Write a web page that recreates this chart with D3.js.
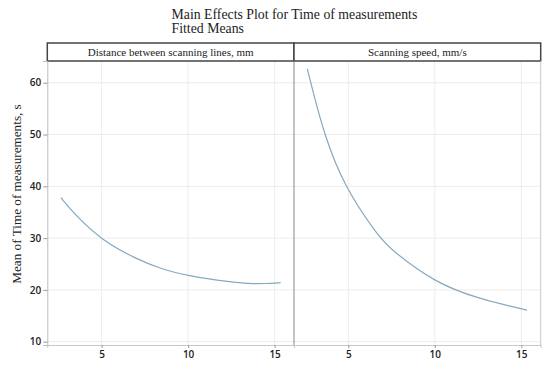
<!DOCTYPE html>
<html>
<head>
<meta charset="utf-8">
<script src="https://cdn.jsdelivr.net/npm/d3@7"></script>
<style>
    body { margin: 0; background: #fff; }
    .tick text { font-family: 'Open Sans', sans-serif; font-weight: 600; font-size: 10px; fill: #222; }
    .serif { font-family: 'Liberation Serif', 'Times New Roman', serif; fill: #222; }
</style>
</head>
<body>
<svg width="550" height="369"></svg>
<script>
'use strict';

// panel titles
var panels = ['Distance between scanning lines, mm', 'Scanning speed, mm/s'];
// fitted means
var distanceX = [2.65, 3.46, 5, 6.92, 8.46, 10, 12.5, 13.5, 14.5, 15.35];
var distanceY = [37.8, 34.5, 29.6, 26.1, 24.0, 22.7, 21.5, 21.2, 21.2, 21.4];
var speedX = [2.63, 2.83, 3.6, 4.75, 6.8, 7.5, 10, 12.5, 15.32];
var speedY = [62.7, 60, 50, 40, 30, 27.7, 21.4, 18.3, 16.1];
var xTicks = [5, 10, 15];
var yTicks = [10, 20, 30, 40, 50, 60];

var series = [
    distanceX.map(function(x, i) { return {x: x, y: distanceY[i]}; }),
    speedX.map(function(x, i) { return {x: x, y: speedY[i]}; })
];

var svg = d3.select('svg');
var plotLeft = 47.3, plotRight = 540.7, plotTop = 61, plotBottom = 345, headTop = 43;
var panelW = (plotRight - plotLeft) / 2;

var y = d3.scaleLinear().domain([9.36, 64.2]).range([plotBottom, plotTop]);

// titles
svg.append('text').attr('class', 'serif')
    .attr('x', 171.5).attr('y', 18.5).attr('font-size', 13.8)
    .text('Main Effects Plot for Time of measurements');
svg.append('text').attr('class', 'serif')
    .attr('x', 171.5).attr('y', 33).attr('font-size', 13.8)
    .text('Fitted Means');

// y label
svg.append('text').attr('class', 'serif')
    .attr('transform', 'translate(21,194) rotate(-90)')
    .attr('text-anchor', 'middle').attr('font-size', 13.2)
    .text('Mean of Time of measurements, s');

var line = d3.line().curve(d3.curveBasis);

panels.forEach(function(name, i) {
    var x0 = plotLeft + i * panelW;
    var x = d3.scaleLinear().domain([1.86, 16.12]).range([x0, x0 + panelW]);
    var g = svg.append('g');

    // grid
    g.selectAll('.vgrid').data(xTicks).enter().append('line')
        .attr('x1', function(d) { return x(d); }).attr('x2', function(d) { return x(d); })
        .attr('y1', plotTop).attr('y2', plotBottom)
        .attr('stroke', '#ececec').attr('stroke-width', 1);
    g.selectAll('.hgrid').data(yTicks).enter().append('line')
        .attr('x1', x0).attr('x2', x0 + panelW)
        .attr('y1', function(d) { return y(d); }).attr('y2', function(d) { return y(d); })
        .attr('stroke', '#ececec').attr('stroke-width', 1);

    // x axis
    var xa = g.append('g')
        .attr('transform', 'translate(0,' + plotBottom + ')')
        .call(d3.axisBottom(x).tickValues(xTicks).tickSize(3).tickPadding(3));
    xa.select('.domain').attr('stroke', '#c8c8c8');
    xa.selectAll('.tick line').attr('stroke', '#999');

    // curve
    g.append('path')
        .attr('d', line(series[i].map(function(d) { return [x(d.x), y(d.y)]; })))
        .attr('fill', 'none').attr('stroke', '#86a9c0').attr('stroke-width', 1.2);

    // header
    g.append('rect')
        .attr('x', x0).attr('y', headTop).attr('width', panelW).attr('height', plotTop - headTop)
        .attr('fill', '#fff').attr('stroke', '#444').attr('stroke-width', 1.5);
    g.append('text').attr('class', 'serif')
        .attr('x', x0 + panelW / 2).attr('y', plotTop - 5)
        .attr('text-anchor', 'middle').attr('font-size', 11)
        .text(name);
});

// y axis
var ya = svg.append('g')
    .attr('transform', 'translate(' + plotLeft + ',0)')
    .call(d3.axisLeft(y).tickValues(yTicks).tickSize(4).tickPadding(2));
ya.select('.domain').attr('stroke', '#bbb');
ya.selectAll('.tick line').attr('stroke', '#999');

// panel divider and right border
svg.append('line').attr('x1', plotLeft + panelW).attr('x2', plotLeft + panelW)
    .attr('y1', plotTop).attr('y2', plotBottom).attr('stroke', '#888').attr('stroke-width', 1);
svg.append('line').attr('x1', plotRight).attr('x2', plotRight)
    .attr('y1', plotTop).attr('y2', plotBottom).attr('stroke', '#c8c8c8').attr('stroke-width', 1);
</script>
</body>
</html>
